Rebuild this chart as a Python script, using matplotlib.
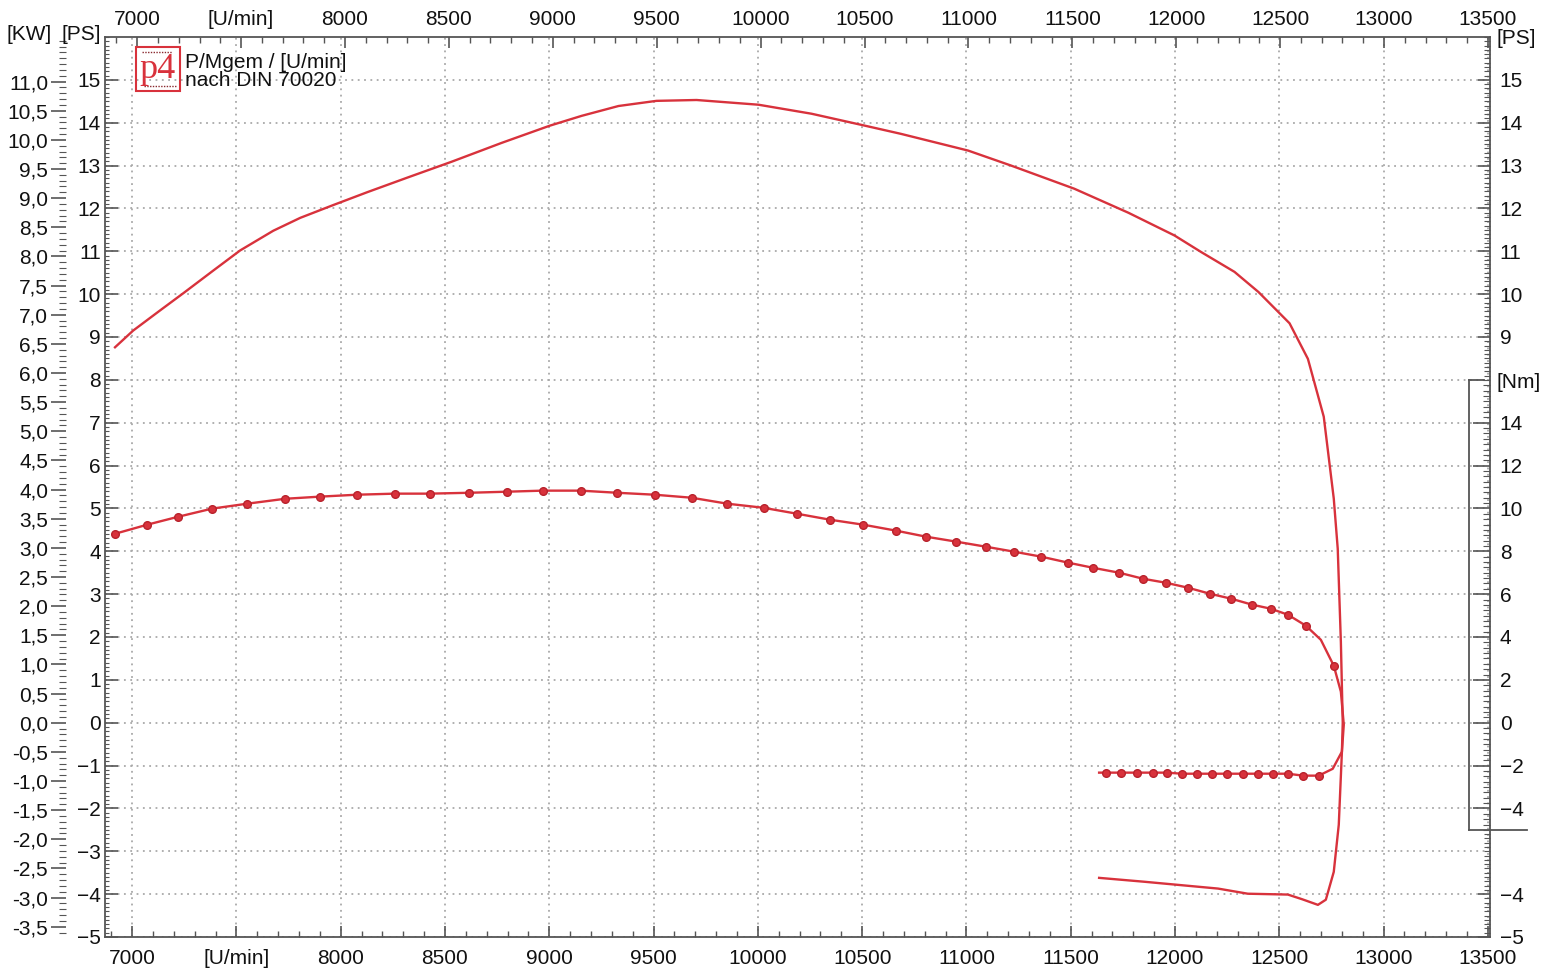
import matplotlib
matplotlib.use('Agg')
import numpy as np
import matplotlib.pyplot as plt
import matplotlib.transforms as mtransforms
from matplotlib.ticker import FixedLocator, FuncFormatter
from matplotlib.patches import Rectangle

plt.rcParams['font.family'] = ['Liberation Sans', 'DejaVu Sans']
plt.rcParams['font.size'] = 15

# Leistung [PS] ueber Drehzahl [U/min] (Hochlauf + Auslauf)
power_rpm = [6918, 7005, 7134, 7245, 7389, 7518, 7677, 7806, 7965, 8128,
             8320, 8532, 8772, 9002, 9155, 9332, 9514, 9706, 10003, 10257,
             10496, 10686, 11008, 11214, 11517, 11776, 11997, 12126, 12285, 12400,
             12549, 12637, 12713, 12761, 12780, 12795, 12804, 12800, 12785, 12761,
             12723, 12685, 12610, 12541, 12349, 12206, 11851, 11636]
power_ps = [8.76, 9.15, 9.62, 10.02, 10.55, 11.02, 11.48, 11.78, 12.08, 12.38,
            12.72, 13.09, 13.53, 13.93, 14.16, 14.39, 14.51, 14.53, 14.42, 14.21,
            13.95, 13.74, 13.35, 13.00, 12.46, 11.90, 11.37, 10.98, 10.52, 10.05,
            9.32, 8.49, 7.14, 5.23, 4.06, 1.89, 0.0, -0.68, -2.38, -3.48,
            -4.13, -4.25, -4.12, -4.01, -3.99, -3.87, -3.71, -3.62]

# Drehmoment [Nm]
torque_rpm = [6919, 7072, 7220, 7383, 7551, 7733, 7900, 8078, 8260, 8427,
              8614, 8796, 8968, 9150, 9327, 9505, 9682, 9854, 10027, 10189,
              10348, 10506, 10664, 10807, 10951, 11095, 11229, 11358, 11487, 11607,
              11732, 11846, 11957, 12062, 12167, 12268, 12369, 12459, 12541, 12627,
              12699, 12761, 12795, 12809, 12800, 12756, 12689, 12613, 12541, 12469,
              12397, 12325, 12249, 12177, 12105, 12033, 11961, 11894, 11818, 11741,
              11669, 11636]
torque_nm = [8.82, 9.24, 9.61, 9.99, 10.22, 10.45, 10.55, 10.64, 10.69, 10.69,
             10.73, 10.78, 10.83, 10.83, 10.73, 10.64, 10.50, 10.22, 10.03, 9.75,
             9.47, 9.24, 8.96, 8.68, 8.45, 8.21, 7.98, 7.75, 7.47, 7.23,
             7.00, 6.72, 6.53, 6.30, 6.02, 5.79, 5.51, 5.32, 5.04, 4.53,
             3.87, 2.66, 1.45, -0.09, -1.35, -2.15, -2.47, -2.47, -2.38, -2.38,
             -2.38, -2.38, -2.38, -2.38, -2.38, -2.38, -2.33, -2.33, -2.33, -2.33,
             -2.33, -2.33]
no_marker = [40, 42, 43, 44, 45, 61]

rpm_ticks = list(range(7000, 13501, 500))
rpm_labels = ['7000', '[U/min]', '8000', '8500', '9000', '9500', '10000',
              '10500', '11000', '11500', '12000', '12500', '13000', '13500']
ps_left = list(range(-5, 16))
ps_right = [-5, -4, 9, 10, 11, 12, 13, 14, 15]
nm_ticks = [-4, -2, 0, 2, 4, 6, 8, 10, 12, 14]
kw_ticks = np.arange(-3.5, 11.01, 0.5)

red = '#d8323c'
grid_col = '#a9a9a9'
frame = '#555555'
txt = '#111111'
W, H = 1549, 974

fig = plt.figure(figsize=(W / 100, H / 100), dpi=100)
ax = fig.add_axes([105 / W, 37 / H, 1385 / W, 900 / H])
ax.set_xlim(6870, 13510)
ax.set_ylim(-5, 16)

ax.xaxis.set_major_locator(FixedLocator(rpm_ticks))
ax.set_xticklabels(rpm_labels)
ax.xaxis.set_minor_locator(FixedLocator(range(6900, 13501, 100)))
ax.yaxis.set_major_locator(FixedLocator(ps_left))
ax.yaxis.set_minor_locator(FixedLocator(np.arange(-5, 16.01, 0.1)))
ax.tick_params(which='both', direction='in', colors=frame, labelcolor=txt)
ax.tick_params(axis='x', which='major', length=8, width=1.2, pad=9)
ax.tick_params(axis='x', which='minor', length=4, width=1)
ax.tick_params(axis='y', which='major', length=9, width=1.2, pad=3)
ax.tick_params(axis='y', which='minor', length=3, width=0.8)
ax.grid(True, which='major', color=grid_col, linestyle=(0, (1, 2.5)), linewidth=1.3)
for s in ax.spines.values():
    s.set_color(frame)
    s.set_linewidth(1.3)

# obere Drehzahlachse (leicht versetzt wie im Original)
top = ax.twiny()
top.set_xlim(6845, 13510)
top.xaxis.set_major_locator(FixedLocator(rpm_ticks))
top.set_xticklabels(rpm_labels)
top.xaxis.set_minor_locator(FixedLocator(range(6900, 13501, 100)))
top.tick_params(which='both', direction='in', colors=frame, labelcolor=txt)
top.tick_params(which='major', length=8, width=1.2, pad=6)
top.tick_params(which='minor', length=4, width=1)
for s in top.spines.values():
    s.set_visible(False)

# rechte PS-Achse
ps_ax = ax.twinx()
ps_ax.set_ylim(ax.get_ylim())
ps_ax.yaxis.set_major_locator(FixedLocator(ps_right))
ps_ax.yaxis.set_minor_locator(FixedLocator(
    [v for v in np.arange(-5, 16.01, 0.1) if v < -2.6 or v > 8.0]))
ps_ax.tick_params(which='both', direction='in', colors=frame, labelcolor=txt)
ps_ax.tick_params(which='major', length=9, width=1.2, pad=7)
ps_ax.tick_params(which='minor', length=4, width=0.8)
for s in ps_ax.spines.values():
    s.set_visible(False)

# Nm-Achse
nm_ax = ax.twinx()
nm_ax.set_ylim(-10, 32)
nm_ax.yaxis.set_major_locator(FixedLocator(nm_ticks))
nm_ax.yaxis.set_minor_locator(FixedLocator(np.arange(-5, 16.01, 0.25)))
nm_ax.tick_params(which='both', direction='in', colors=frame, labelcolor=txt)
nm_ax.tick_params(which='major', length=12, width=1.2, pad=7)
nm_ax.tick_params(which='minor', length=5, width=0.8)
for s in nm_ax.spines.values():
    s.set_visible(False)
box_tr = mtransforms.blended_transform_factory(nm_ax.transAxes, nm_ax.transData)
nm_ax.plot([0.985, 0.985], [-5, 16], color=frame, lw=1.3, transform=box_tr, clip_on=False)
nm_ax.plot([0.985, 1.027], [-5, -5], color=frame, lw=1.3, transform=box_tr, clip_on=False)
nm_ax.plot([0.985, 0.996], [16, 16], color=frame, lw=1.3, transform=box_tr, clip_on=False)

# kW-Skala links
sec = ax.secondary_yaxis(-0.028, functions=(lambda p: p / 1.36, lambda k: k * 1.36))
sec.yaxis.set_major_locator(FixedLocator(kw_ticks))
sec.yaxis.set_minor_locator(FixedLocator(np.arange(-3.6, 11.71, 0.1)))
sec.yaxis.set_major_formatter(FuncFormatter(lambda v, p: f"{v:.1f}".replace('.', ',').replace('-0,0', '0,0')))
sec.tick_params(which='both', direction='out', colors=frame, labelcolor=txt)
sec.tick_params(which='major', length=11, width=1.2, pad=2)
sec.tick_params(which='minor', length=5, width=0.8)
for s in sec.spines.values():
    s.set_visible(False)

# Kurven
ax.plot(power_rpm, power_ps, color=red, lw=1.7, solid_joinstyle='round')
marks = [i for i in range(len(torque_rpm)) if i not in no_marker]
nm_ax.plot(torque_rpm, torque_nm, color=red, lw=1.7, marker='o', ms=5.5,
           markevery=marks, mfc=red, mec='#b8222c')

# Achsenbeschriftungen
fig.text(6 / W, 1 - 35 / H, '[KW]', color=txt, va='center', ha='left')
fig.text(62 / W, 1 - 35 / H, '[PS]', color=txt, va='center', ha='left')
fig.text(1497 / W, 1 - 38 / H, '[PS]', color=txt, va='center', ha='left')
fig.text(1497 / W, 1 - 382 / H, '[Nm]', color=txt, va='center', ha='left')

# Logo und Titel
fig.add_artist(Rectangle((136 / W, 1 - 91 / H), 44 / W, 44 / H, transform=fig.transFigure,
                         fill=False, ec=red, lw=1.5))
fig.text(158 / W, 1 - 70 / H, 'p4', color=red, family='Liberation Serif',
         fontsize=26, ha='center', va='center')
fig.add_artist(plt.Line2D([142 / W, 172 / W], [1 - 52 / H, 1 - 52 / H], transform=fig.transFigure,
                          color='#8a2a30', lw=1, linestyle=(0, (1, 1))))
fig.add_artist(plt.Line2D([144 / W, 176 / W], [1 - 86 / H, 1 - 86 / H], transform=fig.transFigure,
                          color='#8a2a30', lw=1, linestyle=(0, (1, 1))))
fig.text(185 / W, 1 - 63 / H, 'P/Mgem / [U/min]', color=txt, va='center', ha='left')
fig.text(185 / W, 1 - 80 / H, 'nach DIN 70020', color=txt, va='center', ha='left')

fig.savefig('out.png', dpi=100, facecolor='white')
